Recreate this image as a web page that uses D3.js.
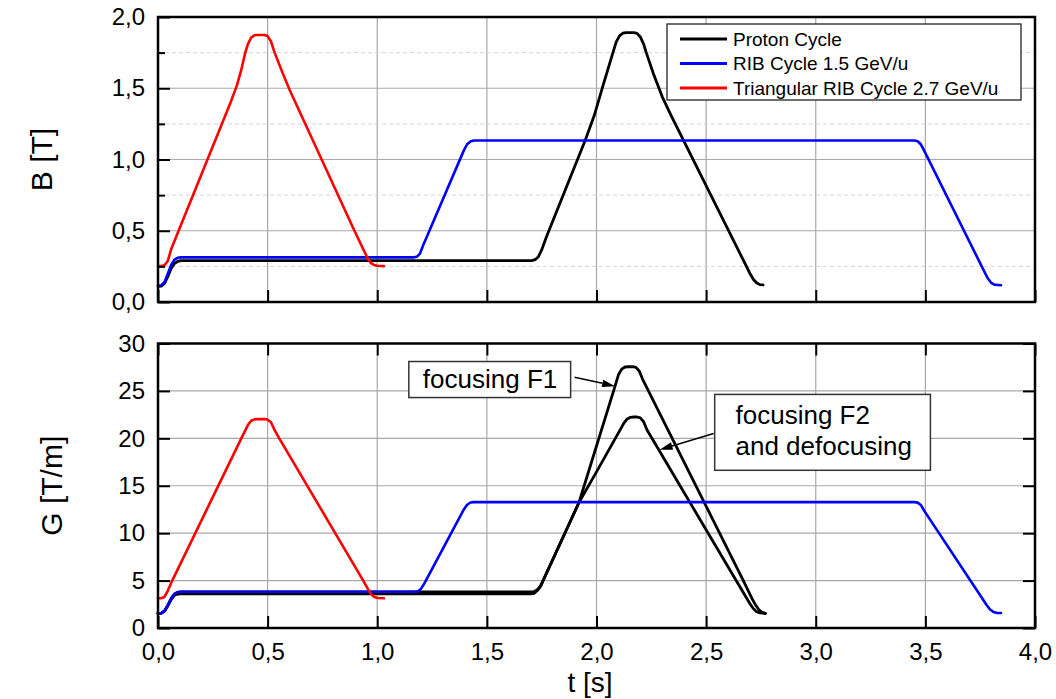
<!DOCTYPE html>
<html><head><meta charset="utf-8">
<script src="https://cdn.jsdelivr.net/npm/d3@7"></script>
<style>
body{margin:0;background:#fff}
svg{display:block}
text{font-family:"Liberation Sans",Arial,sans-serif;fill:#000}
</style>
</head><body>
<svg id="c" width="1056" height="699"></svg>
<script>
// ---------------- data ----------------
const timeTicks = [0, 0.5, 1, 1.5, 2, 2.5, 3, 3.5, 4];
const bTicks = [0, 0.5, 1, 1.5, 2];
const bMinorTicks = [0.25, 0.75, 1.25, 1.75];
const gTicks = [0, 5, 10, 15, 20, 25, 30];
const legendLabels = ["Proton Cycle", "RIB Cycle 1.5 GeV/u", "Triangular RIB Cycle 2.7 GeV/u"];
const seriesColors = ["#000000", "#0000ff", "#ff0000"];
const annotF1 = ["focusing F1"];
const annotF2 = ["focusing F2", "and defocusing"];

// B [T] vs t [s]
const protonB = [[0,0.11],[0.015,0.112],[0.03,0.13],[0.045,0.18],[0.06,0.235],[0.075,0.27],[0.09,0.285],[0.105,0.29],
  [1.705,0.29],[1.72,0.297],[1.735,0.318],[1.75,0.365],[1.765,0.43],[1.78,0.49],[1.95,1.14],[1.99,1.31],
  [2.03,1.52],[2.075,1.75],[2.09,1.825],[2.105,1.868],[2.12,1.886],[2.135,1.89],[2.17,1.89],[2.185,1.885],
  [2.2,1.86],[2.215,1.81],[2.227,1.75],[2.26,1.6],[2.30,1.44],[2.34,1.31],[2.70,0.2],[2.715,0.16],
  [2.73,0.135],[2.745,0.122],[2.76,0.12]];
const ribB = [[0,0.115],[0.015,0.118],[0.03,0.14],[0.045,0.2],[0.06,0.26],[0.075,0.297],[0.09,0.31],[0.105,0.313],
  [1.165,0.313],[1.18,0.317],[1.195,0.34],[1.21,0.40],[1.395,1.064],[1.41,1.107],[1.425,1.127],[1.44,1.133],
  [3.45,1.133],[3.465,1.128],[3.48,1.105],[3.495,1.06],[3.77,0.21],[3.785,0.165],[3.80,0.135],[3.815,0.122],[3.845,0.118]];
const triB = [[0,0.252],[0.015,0.252],[0.03,0.258],[0.045,0.29],[0.06,0.37],[0.094,0.5],[0.33,1.397],[0.36,1.52],
  [0.38,1.63],[0.398,1.75],[0.41,1.81],[0.425,1.855],[0.44,1.872],[0.455,1.874],[0.485,1.874],[0.50,1.866],
  [0.515,1.83],[0.532,1.75],[0.565,1.62],[0.60,1.49],[0.896,0.5],[0.955,0.31],[0.97,0.275],[0.985,0.26],
  [1.0,0.254],[1.03,0.252]];

// G [T/m] vs t [s]
const protonF1 = [[0,1.54],[0.015,1.56],[0.03,1.8],[0.045,2.4],[0.06,3.1],[0.075,3.58],[0.09,3.76],[0.105,3.8],
  [1.70,3.8],[1.715,3.83],[1.73,4.05],[1.745,4.45],[1.92,13.23],[2.078,25],[2.10,26.7],[2.115,27.3],[2.13,27.52],
  [2.145,27.55],[2.165,27.55],[2.18,27.48],[2.195,27.1],[2.21,26.25],[2.668,5.08],[2.71,3.07],[2.725,2.45],
  [2.74,1.95],[2.755,1.65],[2.77,1.55]];
const protonF2 = [[0,1.54],[0.015,1.56],[0.03,1.78],[0.045,2.35],[0.06,3.0],[0.075,3.45],[0.09,3.58],[0.105,3.6],
  [1.70,3.6],[1.715,3.65],[1.73,3.95],[1.745,4.4],[1.92,13.23],[2.0,16.46],[2.125,21.6],[2.14,22.05],[2.155,22.22],
  [2.17,22.25],[2.185,22.25],[2.2,22.15],[2.215,21.75],[2.23,20.9],[2.637,5.0],[2.70,2.55],[2.715,2.05],
  [2.73,1.72],[2.745,1.6],[2.77,1.55]];
const ribG = [[0,1.54],[0.015,1.56],[0.03,1.8],[0.045,2.4],[0.06,3.1],[0.075,3.6],[0.09,3.78],[0.105,3.82],
  [1.17,3.82],[1.185,3.86],[1.20,4.15],[1.215,4.7],[1.395,12.5],[1.41,13.0],[1.425,13.23],[1.44,13.27],
  [3.45,13.27],[3.465,13.22],[3.48,12.95],[3.495,12.35],[3.78,2.4],[3.795,1.95],[3.81,1.7],[3.825,1.6],[3.845,1.58]];
const triG = [[0,3.13],[0.015,3.14],[0.03,3.3],[0.045,3.95],[0.065,5],[0.38,20],[0.41,21.4],[0.425,21.85],
  [0.44,22.0],[0.455,22.03],[0.485,22.03],[0.50,21.97],[0.515,21.7],[0.53,20.95],[0.553,20],[0.936,5],
  [0.97,3.6],[0.985,3.3],[1.0,3.17],[1.03,3.13]];

// ---------------- layout ----------------
const svg = d3.select("#c");
const L = 158, R = 1035;
const x = d3.scaleLinear().domain([0, 4]).range([L, R]);
const yB = d3.scaleLinear().domain([0, 2]).range([302, 17]);
const yG = d3.scaleLinear().domain([0, 30]).range([628, 343.5]);
const fmt1 = d => d.toFixed(1).replace(".", ",");

function grid(y, major, minor) {
  const g = svg.append("g");
  g.selectAll("line.v").data(timeTicks.slice(1, -1)).join("line")
    .attr("x1", d => x(d)).attr("x2", d => x(d))
    .attr("y1", y.range()[0]).attr("y2", y.range()[1])
    .attr("stroke", "#a8a8a8").attr("stroke-width", 1.2);
  if (minor) g.selectAll("line.m").data(minor).join("line")
    .attr("x1", L).attr("x2", R).attr("y1", d => y(d)).attr("y2", d => y(d))
    .attr("stroke", "#d4d4d4").attr("stroke-width", 1).attr("stroke-dasharray", "4,3");
  g.selectAll("line.h").data(major.slice(1, -1)).join("line")
    .attr("class", "h")
    .attr("x1", L).attr("x2", R).attr("y1", d => y(d)).attr("y2", d => y(d))
    .attr("stroke", "#a8a8a8").attr("stroke-width", 1.2);
}
grid(yB, bTicks, bMinorTicks);
grid(yG, gTicks, null);

function curve(y, data, color, w) {
  const line = d3.line().x(d => x(d[0])).y(d => y(d[1])).curve(d3.curveLinear);
  svg.append("path").attr("d", line(data)).attr("fill", "none")
    .attr("stroke", color).attr("stroke-width", w)
    .attr("stroke-linejoin", "round").attr("stroke-linecap", "round");
}
curve(yB, protonB, seriesColors[0], 2.8);
curve(yB, ribB, seriesColors[1], 2.6);
curve(yB, triB, seriesColors[2], 2.6);
curve(yG, protonF2, seriesColors[0], 2.8);
curve(yG, protonF1, seriesColors[0], 2.8);
curve(yG, ribG, seriesColors[1], 2.6);
curve(yG, triG, seriesColors[2], 2.6);

function styleAxis(g) {
  g.select(".domain").remove();
  g.selectAll(".tick line").attr("stroke", "#000").attr("stroke-width", 2);
  g.selectAll(".tick text").attr("font-size", 24).attr("fill", "#000")
    .style("font-family", '"Liberation Sans",Arial,sans-serif');
}
// top panel axes
svg.append("g").attr("transform", `translate(${L},0)`)
  .call(d3.axisLeft(yB).tickValues(bTicks).tickSize(-12).tickPadding(13).tickFormat(fmt1)).call(styleAxis);
svg.append("g").attr("transform", `translate(${L},0)`)
  .call(d3.axisLeft(yB).tickValues(bMinorTicks).tickSize(-7).tickFormat("")).call(styleAxis);
svg.append("g").attr("transform", `translate(0,${yB(0)})`)
  .call(d3.axisBottom(x).tickValues(timeTicks).tickSize(-12).tickFormat("")).call(styleAxis);
// bottom panel axes
svg.append("g").attr("transform", `translate(${L},0)`)
  .call(d3.axisLeft(yG).tickValues(gTicks).tickSize(-12).tickPadding(13).tickFormat(d3.format("d"))).call(styleAxis);
svg.append("g").attr("transform", `translate(${R},0)`)
  .call(d3.axisRight(yG).tickValues(gTicks).tickSize(-12).tickFormat("")).call(styleAxis);
svg.append("g").attr("transform", `translate(0,${yG(30)})`)
  .call(d3.axisTop(x).tickValues(timeTicks).tickSize(-12).tickFormat("")).call(styleAxis);
svg.append("g").attr("transform", `translate(0,${yG(0)})`)
  .call(d3.axisBottom(x).tickValues(timeTicks).tickSize(-12).tickPadding(15).tickFormat(fmt1)).call(styleAxis);

// frames
[yB, yG].forEach(y => {
  svg.append("rect").attr("x", L).attr("y", y.range()[1])
    .attr("width", R - L).attr("height", y.range()[0] - y.range()[1])
    .attr("fill", "none").attr("stroke", "#000").attr("stroke-width", 2.5);
});

// axis titles
svg.append("text").attr("transform", `translate(52,${(yB(0)+yB(2))/2}) rotate(-90)`)
  .attr("text-anchor", "middle").attr("font-size", 30).text("B [T]");
svg.append("text").attr("transform", `translate(62,${(yG(0)+yG(30))/2}) rotate(-90)`)
  .attr("text-anchor", "middle").attr("font-size", 30).text("G [T/m]");
svg.append("text").attr("x", 590).attr("y", 692)
  .attr("text-anchor", "middle").attr("font-size", 28).text("t [s]");

// legend
const lg = svg.append("g").attr("transform", "translate(667,24)");
lg.append("rect").attr("width", 354).attr("height", 76).attr("fill", "#fff")
  .attr("stroke", "#222").attr("stroke-width", 1.3);
legendLabels.forEach((lab, i) => {
  const yy = 15 + i * 24.5;
  lg.append("line").attr("x1", 13).attr("x2", 60).attr("y1", yy).attr("y2", yy)
    .attr("stroke", seriesColors[i]).attr("stroke-width", i === 0 ? 3.2 : 2.8);
  lg.append("text").attr("x", 66).attr("y", yy).attr("dy", "0.35em")
    .attr("font-size", 19).text(lab);
});

// annotations
function arrow(t0, v0, t1, v1) {
  const x0 = x(t0), y0 = yG(v0), x1 = x(t1), y1 = yG(v1);
  const a = Math.atan2(y1 - y0, x1 - x0), hl = 13, hw = 3.8;
  const bx = x1 - hl * Math.cos(a), by = y1 - hl * Math.sin(a);
  svg.append("line").attr("x1", x0).attr("y1", y0).attr("x2", bx).attr("y2", by)
    .attr("stroke", "#000").attr("stroke-width", 1.5);
  svg.append("path").attr("d",
    `M${x1},${y1}L${bx + hw*Math.sin(a)},${by - hw*Math.cos(a)}L${bx - hw*Math.sin(a)},${by + hw*Math.cos(a)}Z`)
    .attr("fill", "#000");
}
function box(t0, v0, t1, v1, lines, tx, baselines) {
  svg.append("rect").attr("x", x(t0)).attr("y", yG(v0))
    .attr("width", x(t1) - x(t0)).attr("height", yG(v1) - yG(v0))
    .attr("fill", "#fff").attr("stroke", "#333").attr("stroke-width", 1.5);
  lines.forEach((s, i) => svg.append("text").attr("x", x(tx)).attr("y", yG(baselines[i]))
    .attr("font-size", 26).text(s));
}
box(1.144, 28.1, 1.882, 24.3, annotF1, 1.208, [25.3]);
arrow(1.90, 26.45, 2.085, 25.5);
box(2.539, 24.63, 3.523, 16.63, annotF2, 2.634, [21.5, 18.2]);
arrow(2.534, 20.5, 2.288, 18.8);
</script>
</body></html>
